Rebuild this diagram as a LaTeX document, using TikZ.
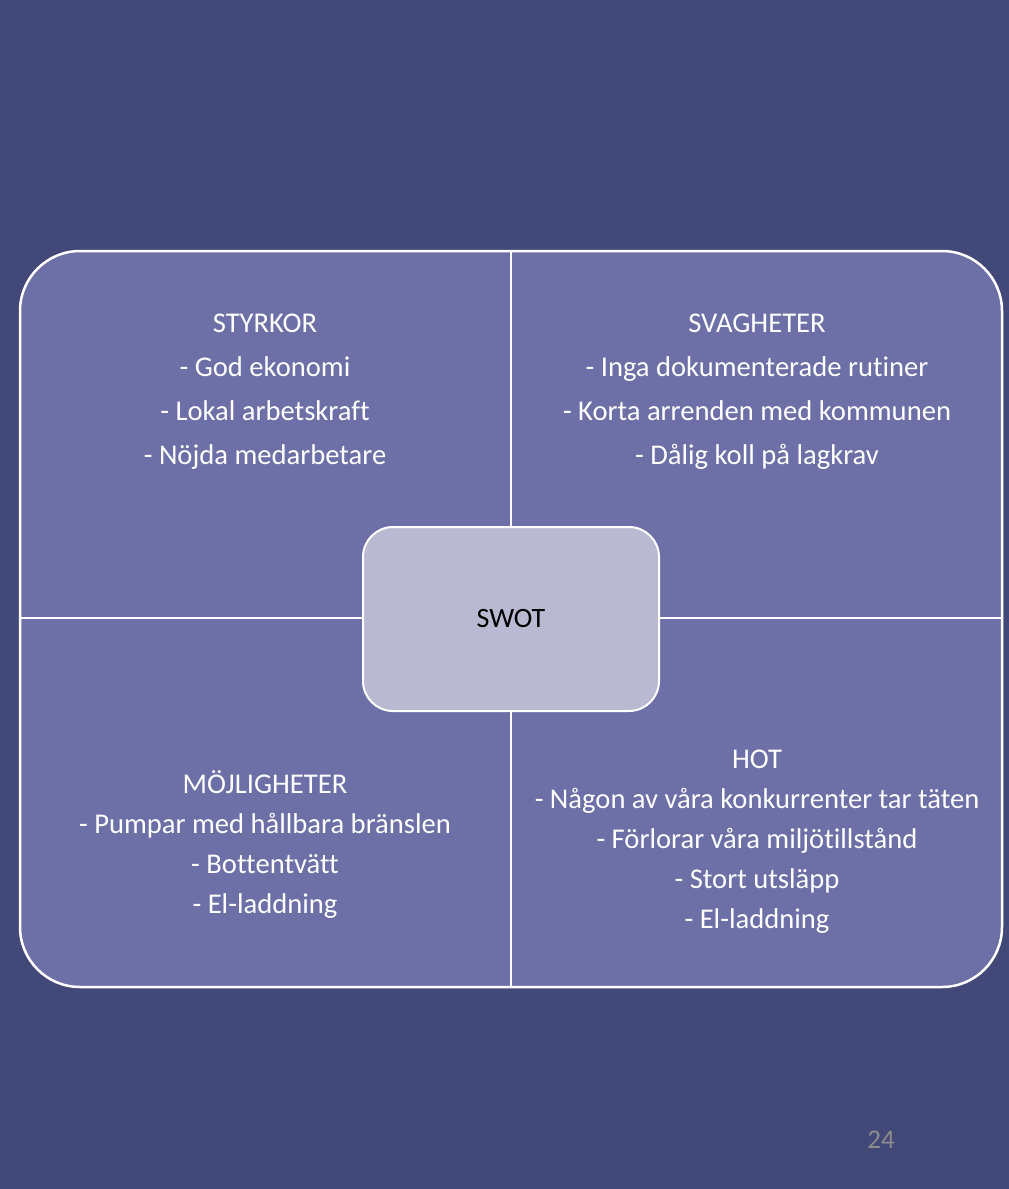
\documentclass[tikz,border=0pt]{standalone}
\usepackage{fontspec}
\setmainfont[Ligatures=NoCommon]{Carlito}
\usetikzlibrary{positioning}
\definecolor{slidebg}{HTML}{424877}
\definecolor{quadfill}{HTML}{6C70A7}
\definecolor{swotfill}{HTML}{B9BAD2}
\definecolor{pagegray}{HTML}{8C8C8C}

\begin{document}
\begin{tikzpicture}[x=1pt,y=-1pt,align=center,
  quadtext/.style={text=white,font=\fontsize{28.6}{44}\selectfont},
  lowtext/.style={text=white,font=\fontsize{28.6}{40}\selectfont}]
\fill[slidebg] (0,0) rectangle (1009,1189);
\useasboundingbox (0,0) rectangle (1009,1189);
\draw[white,line width=2.5pt,fill=quadfill,rounded corners=60pt] (20,251) rectangle (1002,987);
\coordinate (T) at (511,251);
\coordinate (B) at (511,987);
\coordinate (L) at (20,618);
\coordinate (R) at (1002,618);
\draw[white,line width=2.5pt] (T) -- (B);
\draw[white,line width=2.5pt] (L) -- (R);
\node[quadtext] (S) at (265,392) {STYRKOR\\- God ekonomi\\- Lokal arbetskraft\\- Nöjda medarbetare};
\node[quadtext] (W) at (757,392) {SVAGHETER\\- Inga dokumenterade rutiner\\- Korta arrenden med kommunen\\- Dålig koll på lagkrav};
\node[lowtext] (O) at (265,844) {MÖJLIGHETER\\- Pumpar med hållbara bränslen\\- Bottentvätt\\- El-laddning};
\node[lowtext] (H) at (757,842) {HOT\\- Någon av våra konkurrenter tar täten\\- Förlorar våra miljötillstånd\\- Stort utsläpp\\- El-laddning};
\node[draw=white,line width=2pt,fill=swotfill,rounded corners=30pt,
  minimum width=296pt,minimum height=184pt,font=\fontsize{28}{34}\selectfont] (SWOT) at (511,619) {SWOT};
\node[text=pagegray,font=\fontsize{27}{30}\selectfont] (P) at (881,1140) {24};
\end{tikzpicture}
\end{document}
